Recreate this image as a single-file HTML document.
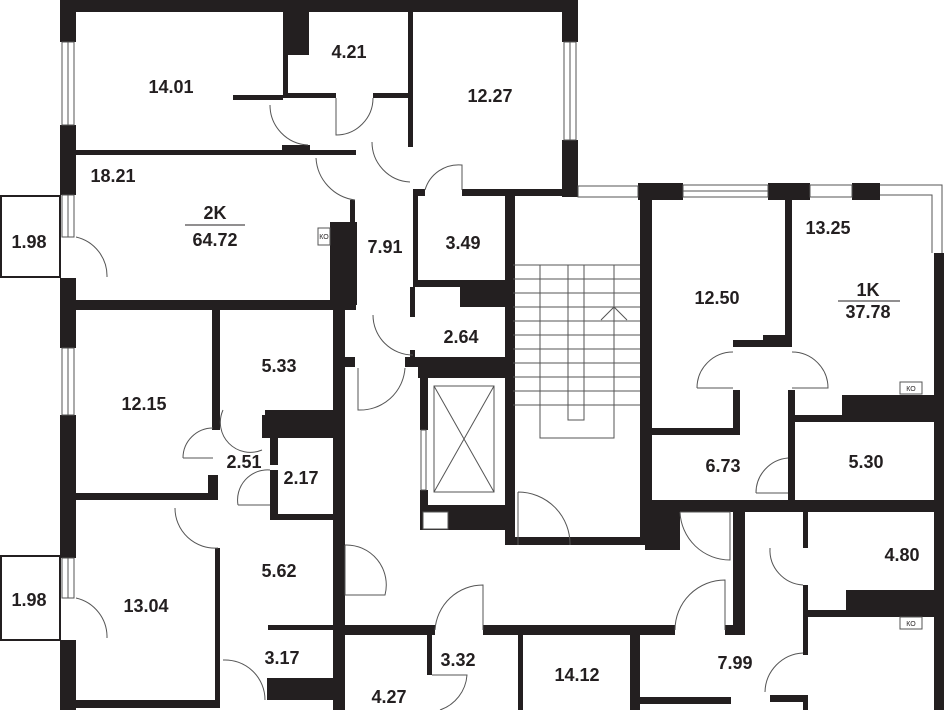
<!DOCTYPE html>
<html><head><meta charset="utf-8"><style>
html,body{margin:0;padding:0;background:#fff;}
svg{display:block;}
text{font-family:"Liberation Sans",sans-serif;font-weight:bold;font-size:18px;fill:#231f20;text-anchor:middle;}
.k{font-size:7px;font-weight:normal;}
</style></head><body>
<svg width="944" height="710" viewBox="0 0 944 710" xmlns="http://www.w3.org/2000/svg">
<g fill="#231f20">
<rect x="60" y="0" width="518" height="12"/>
<rect x="60" y="0" width="16" height="42"/>
<rect x="60" y="125" width="16" height="70"/>
<rect x="60" y="278" width="16" height="70"/>
<rect x="60" y="415" width="16" height="143"/>
<rect x="60" y="640" width="16" height="70"/>
<rect x="562" y="0" width="16" height="42"/>
<rect x="562" y="140" width="16" height="57"/>
<rect x="283" y="12" width="26" height="43"/>
<rect x="283" y="55" width="5" height="43"/>
<rect x="233" y="95" width="50" height="5"/>
<rect x="283" y="93" width="53" height="5"/>
<rect x="373" y="93" width="37" height="5"/>
<rect x="408" y="12" width="5" height="135"/>
<rect x="76" y="150" width="280" height="5"/>
<rect x="282" y="145" width="28" height="10"/>
<rect x="413" y="189" width="12" height="7"/>
<rect x="462" y="189" width="116" height="7"/>
<rect x="413" y="189" width="5" height="95"/>
<rect x="350" y="200" width="5" height="25"/>
<rect x="330" y="222" width="27" height="83"/>
<rect x="76" y="300" width="280" height="10"/>
<rect x="413" y="280" width="97" height="7"/>
<rect x="460" y="280" width="50" height="27"/>
<rect x="410" y="287" width="5" height="30"/>
<rect x="410" y="350" width="5" height="10"/>
<rect x="345" y="357" width="10" height="10"/>
<rect x="405" y="357" width="107" height="10"/>
<rect x="333" y="300" width="12" height="330"/>
<rect x="212" y="310" width="8" height="120"/>
<rect x="208" y="475" width="10" height="25"/>
<rect x="76" y="493" width="142" height="7"/>
<rect x="265" y="410" width="70" height="28"/>
<rect x="262" y="415" width="5" height="23"/>
<rect x="270" y="438" width="8" height="27"/>
<rect x="270" y="470" width="8" height="50"/>
<rect x="270" y="514" width="65" height="6"/>
<rect x="215" y="548" width="5" height="160"/>
<rect x="76" y="700" width="144" height="8"/>
<rect x="268" y="625" width="67" height="5"/>
<rect x="267" y="678" width="68" height="22"/>
<rect x="418" y="358" width="94" height="20"/>
<rect x="420" y="358" width="8" height="72"/>
<rect x="420" y="490" width="8" height="40"/>
<rect x="420" y="505" width="92" height="25"/>
<rect x="505" y="190" width="10" height="355"/>
<rect x="505" y="537" width="147" height="8"/>
<rect x="640" y="183" width="12" height="362"/>
<rect x="638" y="183" width="45" height="17"/>
<rect x="768" y="183" width="42" height="17"/>
<rect x="852" y="183" width="28" height="17"/>
<rect x="934" y="253" width="10" height="457"/>
<rect x="785" y="197" width="7" height="150"/>
<rect x="763" y="335" width="29" height="12"/>
<rect x="733" y="340" width="32" height="7"/>
<rect x="733" y="390" width="7" height="45"/>
<rect x="652" y="428" width="88" height="7"/>
<rect x="788" y="390" width="7" height="115"/>
<rect x="842" y="395" width="100" height="23"/>
<rect x="792" y="415" width="150" height="7"/>
<rect x="652" y="500" width="292" height="12"/>
<rect x="645" y="500" width="35" height="50"/>
<rect x="733" y="512" width="12" height="123"/>
<rect x="803" y="512" width="5" height="36"/>
<rect x="803" y="585" width="5" height="70"/>
<rect x="846" y="590" width="98" height="22"/>
<rect x="803" y="610" width="140" height="7"/>
<rect x="803" y="695" width="5" height="15"/>
<rect x="770" y="695" width="35" height="7"/>
<rect x="333" y="625" width="102" height="10"/>
<rect x="483" y="625" width="192" height="10"/>
<rect x="725" y="625" width="20" height="10"/>
<rect x="333" y="625" width="12" height="85"/>
<rect x="427" y="635" width="5" height="40"/>
<rect x="518" y="635" width="5" height="75"/>
<rect x="630" y="635" width="10" height="75"/>
<rect x="636" y="697" width="95" height="7"/>
</g>
<g fill="none" stroke="#555" stroke-width="1">
<rect x="62" y="42" width="12" height="83"/><line x1="68" y1="42" x2="68" y2="125"/>
<rect x="62" y="195" width="12" height="42"/><line x1="68" y1="195" x2="68" y2="237"/>
<rect x="62" y="348" width="12" height="67"/><line x1="68" y1="348" x2="68" y2="415"/>
<rect x="62" y="558" width="12" height="40"/><line x1="68" y1="558" x2="68" y2="598"/>
<rect x="564" y="42" width="12" height="98"/><line x1="570" y1="42" x2="570" y2="140"/>
<rect x="578" y="186" width="60" height="11"/>
<rect x="683" y="185" width="85" height="12"/><line x1="683" y1="191" x2="768" y2="191"/>
<rect x="810" y="185" width="42" height="12"/>
<path d="M880 185 H942 V253 M880 195 H932 V253"/>
<rect x="1" y="196" width="59" height="81" stroke="#231f20" stroke-width="2"/>
<rect x="1" y="556" width="59" height="84" stroke="#231f20" stroke-width="2"/>
<rect x="540" y="265" width="74" height="173"/>
<rect x="568" y="265" width="16" height="155"/>
<path d="M513 265H640M513 279H640M513 293H640M513 307H640M513 321H640M513 335H640M513 349H640M513 363H640M513 377H640M513 391H640M513 405H640"/>
<path d="M601 320L614 307L627 320M614 307V438"/>
<rect x="434" y="386" width="60" height="106"/>
<path d="M434 386L494 492M494 386L434 492"/>
<rect x="423" y="512" width="25" height="17" fill="#fff"/>
<rect x="421" y="430" width="5" height="60"/>
<path d="M76 237 A40 40 0 0 1 107 277"/>
<path d="M76 598 A40 40 0 0 1 107 638"/>
<path d="M270 105 A40 40 0 0 0 308 145"/>
<path d="M336 98V135 A37 37 0 0 0 373 98"/>
<path d="M316 158 A45 45 0 0 0 355 200"/>
<path d="M372 142 A40 40 0 0 0 410 182"/>
<path d="M425 190 A35 35 0 0 1 462 165V190"/>
<path d="M373 315 A40 40 0 0 0 413 355"/>
<path d="M358 368V410 A45 45 0 0 0 405 368"/>
<path d="M183 458 A30 30 0 0 1 213 428 M183 458H213"/>
<path d="M223 410 A30 30 0 0 0 262 450"/>
<path d="M238 505 A30 30 0 0 1 270 470 M238 505H270"/>
<path d="M175 508 A40 40 0 0 0 218 548"/>
<path d="M345 545V595H385 A40 40 0 0 0 345 545"/>
<path d="M223 660 A40 40 0 0 1 265 700"/>
<path d="M697 388 A36 36 0 0 1 733 352 M697 388H733"/>
<path d="M792 352 A36 36 0 0 1 828 388H792"/>
<path d="M756 493 A35 35 0 0 1 788 458 M756 493H788"/>
<path d="M518 492 A52 52 0 0 1 570 545 M518 492V545"/>
<path d="M680 512H730V560 A50 50 0 0 1 680 512"/>
<path d="M675 630 A50 50 0 0 1 725 580V630"/>
<path d="M770 548 A35 35 0 0 0 803 585"/>
<path d="M765 692 A40 40 0 0 1 803 653"/>
<path d="M435 630 A48 48 0 0 1 483 585V630"/>
<path d="M432 675H467 A40 40 0 0 1 440 710"/>
</g>
<g fill="#fff" stroke="#555" stroke-width="1">
<rect x="318" y="228" width="12" height="17"/>
<rect x="900" y="382" width="22" height="12"/>
<rect x="900" y="617" width="22" height="12"/>
</g>
<text class="k" x="324" y="239">КО</text>
<text class="k" x="911" y="391">КО</text>
<text class="k" x="911" y="626">КО</text>
<line x1="185" y1="225" x2="245" y2="225" stroke="#231f20"/>
<line x1="838" y1="301" x2="900" y2="301" stroke="#231f20"/>
<text x="171" y="93">14.01</text>
<text x="349" y="58">4.21</text>
<text x="490" y="102">12.27</text>
<text x="113" y="182">18.21</text>
<text x="215" y="219">2K</text>
<text x="215" y="246">64.72</text>
<text x="29" y="248">1.98</text>
<text x="385" y="253">7.91</text>
<text x="463" y="249">3.49</text>
<text x="461" y="343">2.64</text>
<text x="717" y="304">12.50</text>
<text x="828" y="234">13.25</text>
<text x="868" y="296">1K</text>
<text x="868" y="318">37.78</text>
<text x="279" y="372">5.33</text>
<text x="144" y="410">12.15</text>
<text x="244" y="468">2.51</text>
<text x="301" y="484">2.17</text>
<text x="723" y="472">6.73</text>
<text x="866" y="468">5.30</text>
<text x="902" y="561">4.80</text>
<text x="279" y="577">5.62</text>
<text x="29" y="606">1.98</text>
<text x="146" y="612">13.04</text>
<text x="282" y="664">3.17</text>
<text x="458" y="666">3.32</text>
<text x="577" y="681">14.12</text>
<text x="735" y="669">7.99</text>
<text x="389" y="703">4.27</text>
</svg>
</body></html>
